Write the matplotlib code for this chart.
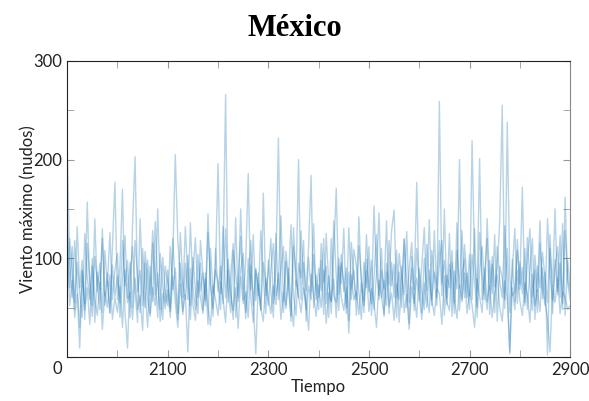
import numpy as np
import matplotlib.pyplot as plt
from matplotlib.ticker import MultipleLocator, FixedLocator
from matplotlib.transforms import ScaledTranslation

# Time axis: one value every 5 units, 1900..2900
tiempo = list(range(1900, 2901, 5))

# Maximum wind (knots), four overlapping runs
serie_a = [
    218, 95, 60, 118, 72, 30, 88, 54, 157, 66, 41, 102, 75, 48, 130, 62, 85, 44, 110, 177,
    58, 92, 170, 45, 9, 80, 112, 67, 35, 140, 74, 50, 98, 63, 128, 82, 40, 105, 71, 55,
    88, 46, 120, 70, 38, 95, 60, 132, 77, 52, 101, 68, 44, 118, 83, 57, 145, 73, 49, 91,
    196, 64, 100, 266, 55, 82, 115, 40, 76, 122, 58, 97, 186, 61, 35, 88, 70, 48, 166, 62,
    85, 120, 54, 93, 222, 68, 45, 107, 79, 36, 131, 72, 200, 58, 96, 67, 112, 184, 50, 83,
    60, 98, 43, 125, 75, 56, 138, 82, 47, 104, 66, 90, 37, 116, 80, 58, 142, 71, 45, 99,
    70, 54, 153, 88, 62, 110, 41, 95, 73, 128, 149, 60, 86, 50, 119, 77, 34, 102, 68, 177,
    57, 92, 131, 63, 45, 108, 80, 52, 259, 74, 98, 60, 125, 41, 87, 69, 200, 56, 114, 78,
    48, 219, 95, 66, 201, 58, 84, 120, 43, 102, 71, 90, 137, 255, 49, 238, 80, 62, 66, 108,
    74, 172, 55, 96, 130, 61, 88, 45, 115, 70, 52, 140, 83, 57, 99, 66, 123, 48, 162, 75,
    58,
]
serie_b = [
    140, 70, 112, 48, 96, 65, 40, 125, 80, 58, 100, 35, 86, 68, 120, 52, 77, 45, 93, 61,
    82, 55, 118, 72, 98, 40, 134, 203, 66, 88, 52, 107, 79, 44, 115, 63, 150, 70, 38, 92,
    74, 50, 99, 205, 118, 80, 43, 95, 58, 136, 71, 48, 104, 67, 85, 52, 126, 76, 41, 110,
    66, 92, 54, 130, 71, 45, 108, 83, 60, 150, 76, 39, 100, 68, 124, 57, 85, 47, 96, 73,
    52, 88, 115, 62, 79, 143, 56, 97, 70, 41, 112, 84, 60, 128, 73, 48, 101, 66, 135, 58,
    90, 67, 120, 54, 82, 44, 106, 171, 63, 95, 75, 50, 131, 69, 88, 42, 113, 79, 57, 124,
    66, 98, 48, 84, 146, 60, 77, 52, 118, 72, 94, 40, 105, 81, 63, 127, 55, 90, 47, 110,
    78, 45, 100, 67, 139, 58, 86, 72, 118, 62, 150, 53, 94, 76, 44, 108, 70, 128, 60, 85,
    62, 104, 75, 50, 126, 82, 58, 140, 68, 94, 45, 112, 77, 60, 133, 71, 3, 99, 56, 119,
    68, 91, 52, 121, 74, 47, 103, 66, 138, 59, 86, 2, 110, 72, 150, 63, 95, 54, 128, 80,
    66,
]
serie_c = [
    110, 52, 78, 40, 64, 9, 86, 47, 70, 33, 92, 58, 42, 75, 28, 66, 50, 83, 38, 60,
    45, 72, 30, 88, 55, 66, 38, 80, 48, 62, 27, 95, 58, 41, 70, 52, 85, 36, 64, 49,
    68, 40, 82, 55, 30, 74, 46, 63, 5, 90, 53, 37, 77, 60, 44, 85, 50, 32, 72, 58,
    42, 76, 58, 35, 88, 62, 47, 70, 29, 81, 54, 66, 40, 93, 57, 3, 74, 50, 36, 80,
    60, 44, 72, 53, 85, 38, 66, 49, 90, 57, 31, 78, 62, 45, 70, 55, 27, 84, 63, 41,
    73, 50, 88, 34, 65, 56, 79, 40, 92, 61, 47, 70, 24, 83, 58, 66, 43, 75, 52, 87,
    46, 69, 55, 30, 78, 60, 43, 86, 51, 65, 37, 74, 58, 92, 45, 63, 28, 71, 54, 80,
    62, 38, 75, 50, 88, 57, 42, 70, 64, 33, 82, 55, 47, 96, 60, 39, 73, 58, 85, 44,
    68, 52, 30, 79, 61, 45, 90, 56, 72, 40, 65, 83, 50, 36, 77, 59, 5, 70, 48, 88,
    57, 42, 75, 63, 35, 84, 52, 68, 46, 90, 58, 39, 5, 72, 55, 80, 44, 66, 60, 48,
    52,
]
serie_d = [
    62, 120, 85, 55, 132, 70, 98, 38, 115, 80, 52, 140, 66, 95, 45, 108, 72, 126, 58, 88,
    105, 40, 78, 123, 60, 96, 50, 118, 82, 45, 110, 68, 30, 92, 56, 137, 74, 48, 101, 65,
    52, 112, 68, 90, 44, 126, 75, 58, 103, 38, 84, 121, 60, 95, 47, 79, 33, 110, 64, 88,
    75, 48, 132, 60, 99, 70, 38, 141, 56, 88, 105, 45, 72, 118, 52, 90, 62, 128, 80, 44,
    98, 66, 40, 125, 58, 90, 112, 52, 76, 134, 62, 42, 95, 80, 118, 36, 72, 58, 104, 70,
    48, 115, 76, 92, 40, 120, 62, 55, 100, 74, 130, 44, 86, 58, 109, 92, 65, 38, 96, 70,
    112, 42, 80, 124, 58, 88, 69, 138, 44, 96, 60, 108, 35, 73, 120, 50, 89, 116, 62, 40,
    90, 66, 48, 114, 78, 52, 128, 60, 94, 118, 42, 83, 70, 108, 55, 136, 47, 85, 99, 60,
    104, 58, 130, 40, 86, 112, 70, 48, 98, 64, 124, 36, 92, 80, 58, 110, 45, 88, 130, 54,
    96, 64, 110, 48, 88, 120, 38, 92, 70, 106, 80, 55, 124, 44, 90, 112, 60, 135, 42, 98,
    72,
]

x_labels = [2100, 2300, 2500, 2700, 2900]
y_labels = [0, 100, 200, 300]

plt.rcParams['font.family'] = ['Lato', 'DejaVu Sans']

fig = plt.figure(figsize=(5.89, 4.01), dpi=100)
ax = fig.add_axes([0.114, 0.110, 0.854, 0.738])

for serie in [serie_a, serie_b, serie_c, serie_d]:
    ax.plot(tiempo, serie, color='#1f77b4', alpha=0.32, lw=1.0)

ax.set_xlim(1900, 2900)
ax.set_ylim(0, 300)
ax.xaxis.set_major_locator(FixedLocator(x_labels))
ax.xaxis.set_minor_locator(MultipleLocator(100))
ax.yaxis.set_major_locator(FixedLocator(y_labels))
ax.yaxis.set_minor_locator(MultipleLocator(50))
ax.tick_params(which='both', direction='in', top=True, right=True, length=5,
               color='#999999', labelsize=12, labelcolor='#222222')

for s in ['left', 'bottom', 'top']:
    ax.spines[s].set_color('#222222')
ax.spines['right'].set_color('#888888')

# the "0" label sits lower, level with the x labels
fig.canvas.draw()
lbl0 = ax.get_yticklabels()[0]
lbl0.set_transform(lbl0.get_transform() + ScaledTranslation(0, -0.11, fig.dpi_scale_trans))

ax.set_xlabel('Tiempo', fontsize=12, color='#222222', labelpad=1)
ax.set_ylabel('Viento máximo (nudos)', fontsize=12, color='#222222', labelpad=-2)
fig.suptitle('México', fontsize=22, fontweight='bold',
             family=['Liberation Serif', 'DejaVu Serif'], y=0.965)

fig.savefig('out.png', dpi=100)
